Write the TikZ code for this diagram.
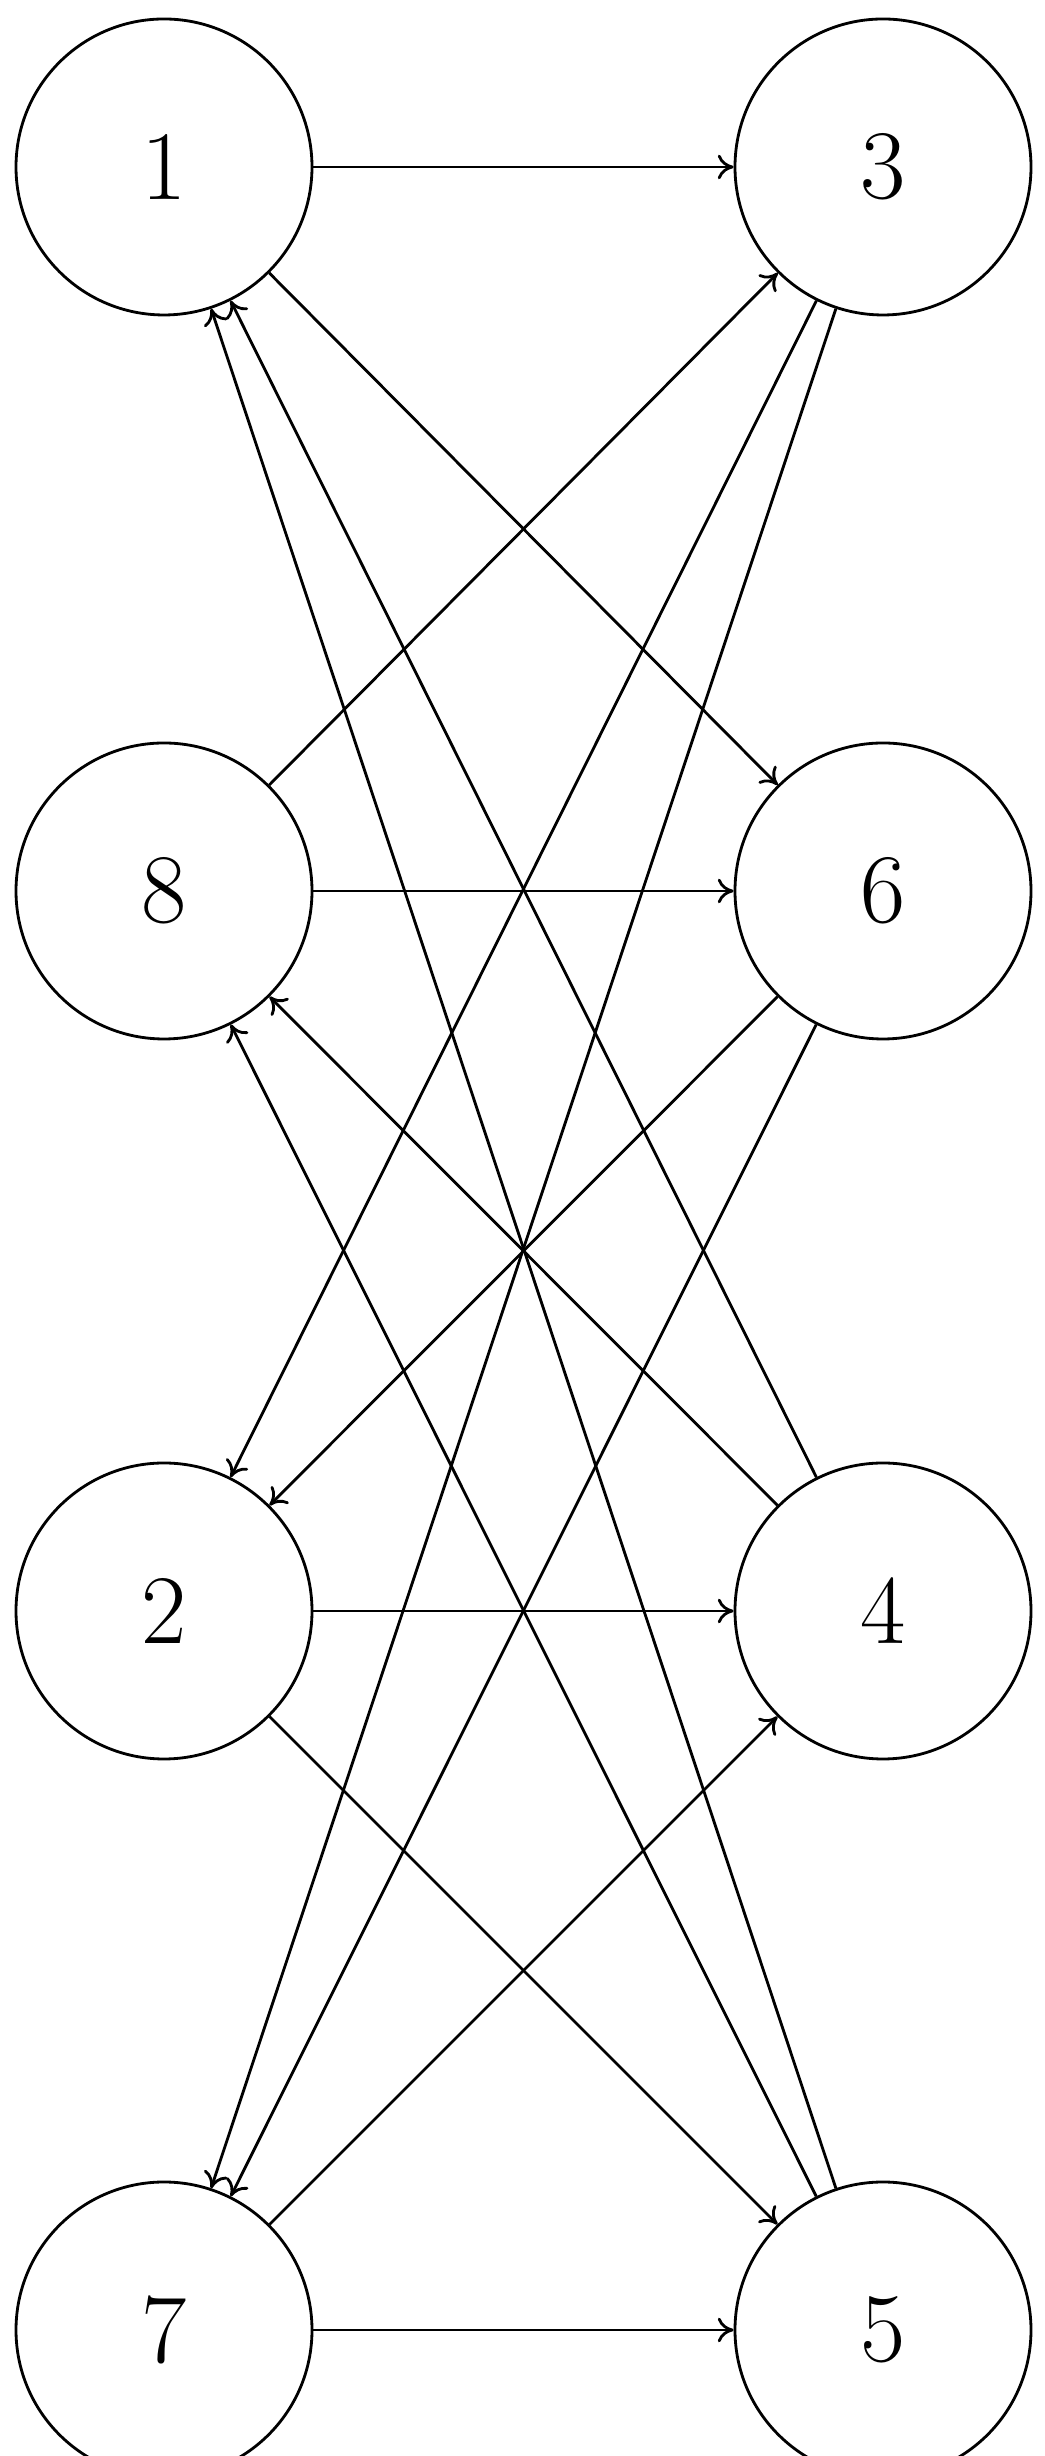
\documentclass[tikz,border=0pt]{standalone}
\usetikzlibrary{arrows.meta}
\begin{document}
\begin{tikzpicture}[
  vtx/.style={circle,draw,line width=1.6pt,minimum size=5.92cm,inner sep=0pt,font=\fontsize{56}{60}\selectfont},
  edge/.style={line width=1.6pt,-{To[length=9pt,width=14pt,line width=1.6pt]}}]
\useasboundingbox (0,0) rectangle (20.9,49.12);
\node[vtx] (1) at (3.28,45.78) {1};
\node[vtx] (8) at (3.28,31.3) {8};
\node[vtx] (2) at (3.28,16.9) {2};
\node[vtx] (7) at (3.28,2.52) {7};
\node[vtx] (3) at (17.66,45.78) {3};
\node[vtx] (6) at (17.66,31.3) {6};
\node[vtx] (4) at (17.66,16.9) {4};
\node[vtx] (5) at (17.66,2.52) {5};
\foreach \a/\b in {1/3,1/6,8/3,8/6,2/4,2/5,7/4,7/5,3/2,3/7,6/2,6/7,4/1,4/8,5/1,5/8}
  \draw[edge] (\a) -- (\b);
\end{tikzpicture}
\end{document}
